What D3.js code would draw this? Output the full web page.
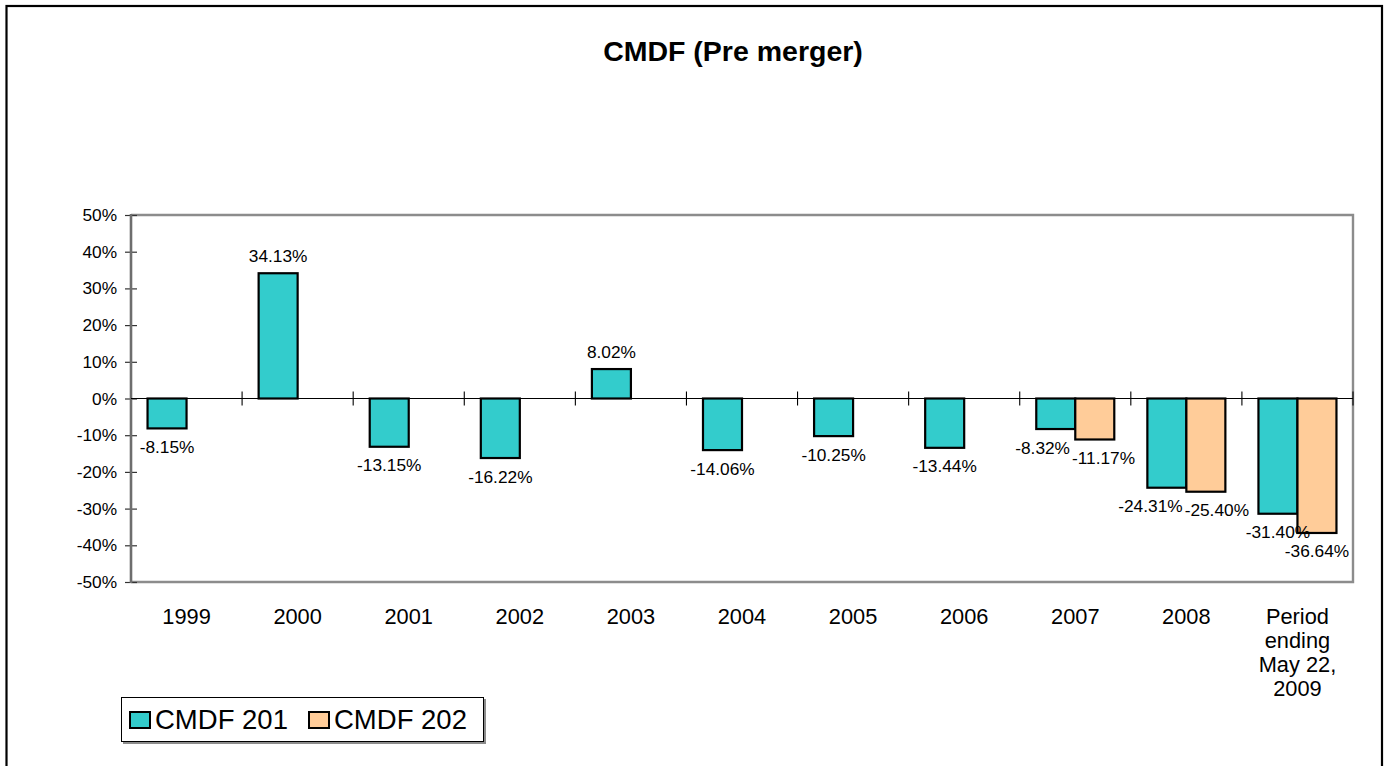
<!DOCTYPE html>
<html>
<head>
<meta charset="utf-8">
<script src="https://cdn.jsdelivr.net/npm/d3@7"></script>
<style>
  html, body { margin: 0; padding: 0; background: #fff; }
  svg { display: block; font-family: "Liberation Sans", Arial, sans-serif; }
</style>
</head>
<body>
<svg id="chart" width="1387" height="766"></svg>
<script>
// ---- data ----
const title = "CMDF (Pre merger)";
const categories = ["1999", "2000", "2001", "2002", "2003", "2004", "2005", "2006", "2007", "2008", "Period ending May 22, 2009"];
const seriesNames = ["CMDF 201", "CMDF 202"];
const cmdf201 = [-8.15, 34.13, -13.15, -16.22, 8.02, -14.06, -10.25, -13.44, -8.32, -24.31, -31.40];
const cmdf202 = [null, null, null, null, null, null, null, null, -11.17, -25.40, -36.64];
const yTicks = [-50, -40, -30, -20, -10, 0, 10, 20, 30, 40, 50];
const colors = ["#33CCCC", "#FFCC99"];

// ---- layout ----
const svg = d3.select("#chart");
const plot = { left: 131, right: 1353, top: 215, bottom: 582 };

const x = d3.scaleBand().domain(categories).range([plot.left, plot.right]).padding(0);
const xs = d3.scaleBand().domain(seriesNames).range([0, x.bandwidth()]).paddingInner(0).paddingOuter(0.424);
const y = d3.scaleLinear().domain([-50, 50]).range([plot.bottom, plot.top]);

// outer chart border
svg.append("rect").attr("x", 6.5).attr("y", 6).attr("width", 1375.5).attr("height", 780)
  .attr("fill", "#fff").attr("stroke", "#000").attr("stroke-width", 2.2);

// title
svg.append("text").attr("x", 733).attr("y", 61).attr("text-anchor", "middle")
  .attr("font-size", 28.5).attr("font-weight", "bold").attr("fill", "#000").text(title);

// plot area border (top, right, bottom grey)
svg.append("path")
  .attr("d", `M${plot.left},${plot.top}H${plot.right}V${plot.bottom}H${plot.left}`)
  .attr("fill", "none").attr("stroke", "#8c8c8c").attr("stroke-width", 2.4);

// y axis
const yAxis = d3.axisLeft(y).tickValues(yTicks).tickFormat(d => d + "%").tickSize(0).tickPadding(14);
const ya = svg.append("g").attr("transform", `translate(${plot.left},0)`).call(yAxis);
ya.select(".domain").remove();
ya.selectAll("text").attr("font-size", 17.3).attr("fill", "#000").attr("font-family", "Liberation Sans, Arial, sans-serif");
ya.selectAll(".tick").append("line").attr("x1", -6).attr("x2", 6).attr("stroke", "#333").attr("stroke-width", 1.2);
svg.append("line").attr("x1", plot.left).attr("x2", plot.left).attr("y1", plot.top - 1).attr("y2", plot.bottom + 1)
  .attr("stroke", "#6e6e6e").attr("stroke-width", 2.6);

// bars
const rows = [];
categories.forEach((c, i) => {
  [cmdf201[i], cmdf202[i]].forEach((v, s) => {
    if (v !== null && v !== undefined) rows.push({ cat: c, series: seriesNames[s], s, v });
  });
});

svg.append("g").selectAll("rect").data(rows).join("rect")
  .attr("x", d => x(d.cat) + xs(d.series))
  .attr("width", xs.bandwidth())
  .attr("y", d => Math.min(y(d.v), y(0)))
  .attr("height", d => Math.abs(y(d.v) - y(0)))
  .attr("fill", d => colors[d.s])
  .attr("stroke", "#000").attr("stroke-width", 2.2);

// zero line with crossing ticks
svg.append("line").attr("x1", plot.left).attr("x2", plot.right).attr("y1", y(0)).attr("y2", y(0))
  .attr("stroke", "#000").attr("stroke-width", 1.2);
const bounds = categories.map(c => x(c)).concat([plot.right]);
svg.append("g").selectAll("line").data(bounds.slice(1)).join("line")
  .attr("x1", d => d).attr("x2", d => d)
  .attr("y1", y(0) - 7).attr("y2", y(0) + 7)
  .attr("stroke", "#000").attr("stroke-width", 1.1);

// data labels
const labels = svg.append("g").selectAll("text").data(rows).join("text")
  .attr("font-size", 17.3).attr("fill", "#000").attr("text-anchor", "middle")
  .attr("x", d => x(d.cat) + xs(d.series) + xs.bandwidth() / 2)
  .attr("y", d => d.v >= 0 ? y(d.v) - 11 : y(d.v) + 24.5)
  .text(d => d.v.toFixed(2) + "%");

// avoid overlapping labels within the same category
const lab = labels.nodes().map((n, i) => ({ n, d: rows[i], w: n.getComputedTextLength(),
  cx: +n.getAttribute("x"), by: +n.getAttribute("y") }));
categories.forEach(c => {
  const g = lab.filter(l => l.d.cat === c);
  if (g.length === 2) {
    const [a, b] = g;
    const hOver = (a.w + b.w) / 2 + 2 - (b.cx - a.cx);
    const vOver = Math.abs(a.by - b.by) < 14;
    if (hOver > 0 && vOver) {
      a.cx -= hOver * 0.6; b.cx += hOver * 0.4;
      d3.select(a.n).attr("x", a.cx);
      d3.select(b.n).attr("x", b.cx);
    }
  }
});

// x category labels (wrapped)
function wrapLines(text, width, size) {
  const words = text.split(" ");
  const tmp = svg.append("text").attr("font-size", size);
  const lines = [];
  let cur = [];
  words.forEach(w => {
    const test = cur.concat([w]).join(" ");
    tmp.text(test);
    if (tmp.node().getComputedTextLength() > width && cur.length) {
      lines.push(cur.join(" "));
      cur = [w];
    } else cur.push(w);
  });
  if (cur.length) lines.push(cur.join(" "));
  tmp.remove();
  return lines;
}
const xl = svg.append("g");
categories.forEach(c => {
  const lines = wrapLines(c, 88, 21.8);
  const t = xl.append("text").attr("font-size", 21.8).attr("fill", "#000").attr("text-anchor", "middle")
    .attr("x", x(c) + x.bandwidth() / 2).attr("y", 624);
  lines.forEach((ln, i) => {
    t.append("tspan").attr("x", x(c) + x.bandwidth() / 2).attr("dy", i === 0 ? 0 : 24).text(ln);
  });
});

// legend
const lg = svg.append("g");
lg.append("rect").attr("x", 123).attr("y", 699).attr("width", 363).attr("height", 45).attr("fill", "#8c8c8c");
lg.append("rect").attr("x", 121.5).attr("y", 697.5).attr("width", 362).attr("height", 44)
  .attr("fill", "#fff").attr("stroke", "#000").attr("stroke-width", 1);
const legendX = [130, 309];
seriesNames.forEach((s, i) => {
  lg.append("rect").attr("x", legendX[i]).attr("y", 712).attr("width", 20).attr("height", 16)
    .attr("fill", colors[i]).attr("stroke", "#000").attr("stroke-width", 2);
  lg.append("text").attr("x", legendX[i] + 25).attr("y", 729).attr("font-size", 27.5).attr("fill", "#000").text(s);
});
</script>
</body>
</html>
